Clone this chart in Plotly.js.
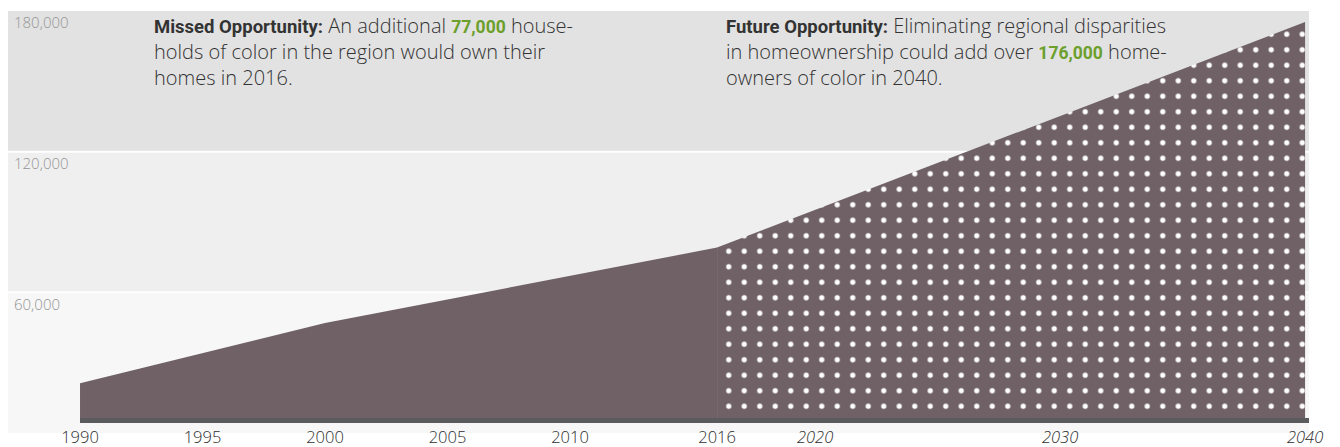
<!DOCTYPE html>
<html>
<head>
<meta charset="utf-8">
<script src="https://cdn.plot.ly/plotly-3.0.1.min.js"></script>
<style>
  html, body { margin: 0; padding: 0; background: #ffffff; }
  #chart { width: 1340px; height: 447px; }
</style>
</head>
<body>
<div id="chart"></div>
<script>
// ---- data ----
const years = [1990, 2000, 2016, 2040];
const additionalHomeowners = [17400, 43900, 77000, 176000];
const splitYear = 2016;

const xTickVals = [1990, 1995, 2000, 2005, 2010, 2016, 2020, 2030, 2040];
const xTickText = ['1990', '1995', '2000', '2005', '2010', '2016', '<i>2020</i>', '<i>2030</i>', '<i>2040</i>'];

const yTickVals = [60000, 120000, 180000];
const yTickText = ['60,000', '120,000', '180,000'];

const missedValue = '77,000';
const futureValue = '176,000';

// ---- derived series ----
const splitIdx = years.indexOf(splitYear);
const histX = years.slice(0, splitIdx + 1);
const histY = additionalHomeowners.slice(0, splitIdx + 1);
const projX = years.slice(splitIdx);
const projY = additionalHomeowners.slice(splitIdx);

const areaColor = '#6f6165';
const xRange = [1987.06, 2040.16];

const traces = [
  {
    x: histX, y: histY, type: 'scatter', mode: 'none',
    fill: 'tozeroy', fillcolor: areaColor, hoverinfo: 'skip', showlegend: false
  },
  {
    x: projX, y: projY, type: 'scatter', mode: 'none',
    fill: 'tozeroy', fillcolor: areaColor,
    fillpattern: { shape: '.', bgcolor: areaColor, fgcolor: '#ffffff', size: 15.5, solidity: 0.09, fillmode: 'replace' },
    hoverinfo: 'skip', showlegend: false
  }
];

const boldStyle = 'font-family:Roboto,\'Liberation Sans\',sans-serif;font-weight:bold;font-size:18.5px;';
const greenStyle = 'font-family:Roboto,\'Liberation Sans\',sans-serif;font-weight:bold;font-size:17.5px;fill:#6c9f2b;';
const bold = (t) => '<span style="' + boldStyle + '">' + t + '</span>';
const green = (t) => '<span style="' + greenStyle + '">' + t + '</span>';

const leftNote = bold('Missed Opportunity:') + ' An additional ' + green(missedValue) + ' house-<br>holds of color in the region would own their<br>homes in 2016.';
const rightNote = bold('Future Opportunity:') + ' Eliminating regional disparities<br>in homeownership could add over ' + green(futureValue) + ' home-<br>owners of color in 2040.';

const baseFont = '"Open Sans", "Liberation Sans", Arial, sans-serif';

const layout = {
  width: 1340, height: 447,
  margin: { l: 8, r: 31, t: 11, b: 14, pad: 0 },
  paper_bgcolor: '#ffffff', plot_bgcolor: '#ffffff',
  showlegend: false,
  xaxis: {
    range: xRange, tickvals: xTickVals, ticktext: xTickText,
    showgrid: false, zeroline: false, showline: false, ticks: '',
    ticklabelstandoff: -8,
    tickfont: { family: baseFont, size: 16.5, color: '#2e2e2e', weight: 300 },
    automargin: false, fixedrange: true
  },
  yaxis: {
    range: [-4390, 180830], showgrid: false, zeroline: false, showline: false,
    showticklabels: false, ticks: '', automargin: false, fixedrange: true
  },
  yaxis2: {
    overlaying: 'y', side: 'left', range: [0, 180000],
    tickvals: yTickVals, ticktext: yTickText,
    ticklabelposition: 'inside', ticklabelshift: 12, ticklabelstandoff: 3,
    showgrid: false, zeroline: false, showline: false, ticks: '',
    tickfont: { family: baseFont, size: 15, color: '#959595', weight: 300 },
    automargin: false, fixedrange: true
  },
  shapes: [
    { type: 'rect', xref: 'paper', yref: 'y2', x0: 0, x1: 1, y0: 120000, y1: 180000, fillcolor: '#e2e2e2', line: { width: 0 }, layer: 'below' },
    { type: 'rect', xref: 'paper', yref: 'y2', x0: 0, x1: 1, y0: 60000, y1: 120000, fillcolor: '#efefef', line: { width: 0 }, layer: 'below' },
    { type: 'rect', xref: 'paper', yref: 'y2', x0: 0, x1: 1, y0: 0, y1: 60000, fillcolor: '#f7f7f7', line: { width: 0 }, layer: 'below' },
    { type: 'line', xref: 'paper', yref: 'y2', x0: 0, x1: 1, y0: 120000, y1: 120000, line: { color: '#ffffff', width: 2 }, layer: 'below' },
    { type: 'line', xref: 'paper', yref: 'y2', x0: 0, x1: 1, y0: 60000, y1: 60000, line: { color: '#ffffff', width: 2 }, layer: 'below' },
    { type: 'rect', xref: 'x', yref: 'y', x0: years[0], x1: xRange[1], ysizemode: 'pixel', yanchor: 0, y0: 0, y1: 5,
      fillcolor: '#5b5a5c', line: { width: 0 }, layer: 'above' }
  ],
  annotations: [
    { xref: 'paper', yref: 'paper', x: 0.1105, y: 1.003, xanchor: 'left', yanchor: 'top', align: 'left',
      showarrow: false, text: leftNote,
      font: { family: baseFont, size: 20, color: '#333333', weight: 300 } },
    { xref: 'paper', yref: 'paper', x: 0.5503, y: 1.003, xanchor: 'left', yanchor: 'top', align: 'left',
      showarrow: false, text: rightNote,
      font: { family: baseFont, size: 20, color: '#333333', weight: 300 } }
  ]
};

Plotly.newPlot('chart', traces, layout, { displayModeBar: false, staticPlot: true });
</script>
</body>
</html>
